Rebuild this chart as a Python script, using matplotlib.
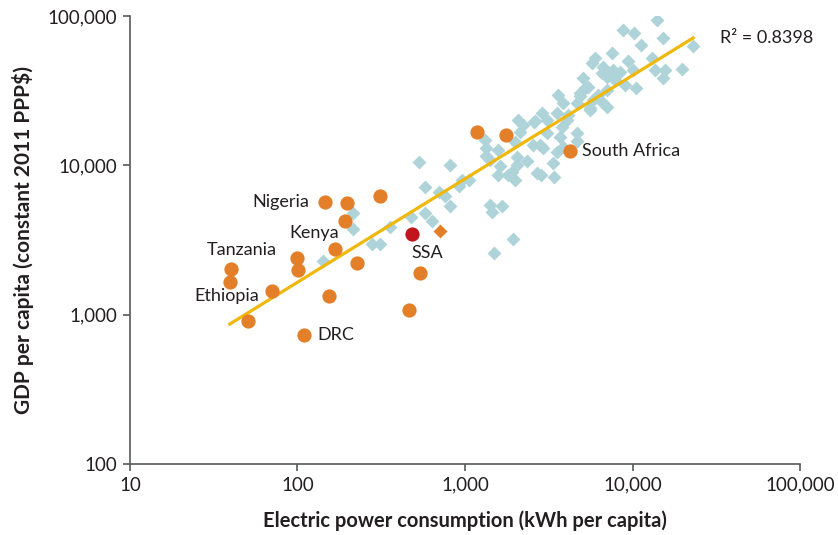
import numpy as np
import matplotlib
matplotlib.use("Agg")
import matplotlib.pyplot as plt
from matplotlib.ticker import FixedLocator, FuncFormatter, NullLocator

plt.rcParams['font.family'] = ['Lato', 'DejaVu Sans']

# other countries (light blue diamonds): kWh per capita, GDP per capita
other_kwh = [142, 214, 214, 279, 311, 357, 476, 531, 577, 577, 635, 700, 760, 813, 813,
             921, 1057, 959, 1410, 1449, 1663, 1935, 1489, 1316, 1334, 1334, 1574, 1410,
             1618, 1574, 1806, 1908, 1990, 2043, 2043, 2344, 2691, 2844, 3398, 3350, 3540,
             3846, 2805, 2547, 2924, 1990, 2130, 2220, 2072, 2582, 2884, 3090, 3090, 3589,
             3540, 3846, 3793, 3690, 4064, 4667, 4863, 5058, 5420, 5570, 4667, 4667, 2618,
             4121, 14000, 8770, 10210, 15210, 11250, 7551, 22960, 13070, 9397, 5970, 5728,
             6668, 6577, 7656, 8414, 7047, 7870, 10070, 13620, 15630, 15210, 19770, 9016,
             10490, 5200, 4863, 7047, 6223, 6577, 7047, 5570, 5808]
other_gdp = [2290, 4800, 3750, 2980, 2980, 3870, 4510, 10500, 7170, 4800, 4250, 6640, 6240,
             10100, 5350, 7280, 7980, 7980, 5430, 4880, 5350, 3210, 2590, 14800, 13100, 11600,
             12700, 10900, 9900, 8620, 8620, 9030, 7980, 11400, 10100, 10700, 8900, 8620,
             8360, 10400, 12300, 13300, 13700, 13700, 13100, 14400, 16700, 18700, 20100,
             19500, 22400, 20100, 16500, 29600, 22400, 26200, 18100, 15500, 20100, 26200,
             29200, 38500, 33500, 24200, 16500, 14600, 19800, 21800, 94200, 80700, 77100,
             71300, 64000, 56600, 63100, 52400, 50000, 52400, 48500, 45600, 41600, 43500,
             42200, 39100, 37300, 43500, 43500, 43500, 38500, 44200, 34600, 33000, 33000,
             30500, 32000, 29600, 26600, 24600, 23500, 27400]

# sub-Saharan African countries (orange circles)
ssa_kwh = [146, 198, 311, 192, 167, 99, 101, 226, 40, 39.5, 70.5, 154, 51, 109, 538, 463,
           1180, 1757, 4236]
ssa_gdp = [5690, 5600, 6240, 4250, 2755, 2400, 1990, 2220, 2020, 1656, 1442, 1334, 907, 731,
           1900, 1075, 16750, 16000, 12480]

# SSA average (red) and one orange diamond
avg_kwh, avg_gdp = 483, 3474
odd_kwh, odd_gdp = 710, 3640

# labels: text, x, y (data), ha
labels = [("Nigeria", 117, 5690, "right"),
          ("Kenya", 90, 3520, "left"),
          ("Tanzania", 28.8, 2710, "left"),
          ("Ethiopia", 24.4, 1334, "left"),
          ("DRC", 132, 731, "left"),
          ("SSA", 476, 2590, "left"),
          ("South Africa", 5000, 12480, "left")]

# fitted trend: log10(y) = a + b*log10(x)
fit_a, fit_b = 1.831, 0.693
fit_x = [39.5, 22960]
r2 = 0.8398

fig = plt.figure(figsize=(8.38, 5.35), dpi=100)
ax = fig.add_axes([0.155, 0.1327, 0.80, 0.8374])

ax.scatter(other_kwh, other_gdp, marker='D', s=50, color='#aed4da', linewidths=0, zorder=2)
fx = np.array(fit_x)
ax.plot(fx, 10 ** (fit_a + fit_b * np.log10(fx)), color='#f0b70c', lw=2.3, zorder=3)
ax.scatter(ssa_kwh, ssa_gdp, marker='o', s=105, color='#e37f28', linewidths=0, zorder=4)
ax.scatter([odd_kwh], [odd_gdp], marker='D', s=50, color='#e37f28', linewidths=0, zorder=4)
ax.scatter([avg_kwh], [avg_gdp], marker='o', s=105, color='#c2161f', linewidths=0, zorder=5)

for txt, x, y, ha in labels:
    ax.text(x, y, txt, ha=ha, va='center', fontsize=13, color='#231f20', zorder=6)
ax.text(33300, 71300, f"R² = {r2:.4f}", ha='left', va='center',
        fontsize=13, color='#231f20')

ax.set_xscale('log')
ax.set_yscale('log')
ax.set_xlim(10, 100000)
ax.set_ylim(100, 100000)
ax.xaxis.set_major_locator(FixedLocator([10, 100, 1000, 10000, 100000]))
ax.yaxis.set_major_locator(FixedLocator([100, 1000, 10000, 100000]))
ax.xaxis.set_minor_locator(NullLocator())
ax.yaxis.set_minor_locator(NullLocator())
fmt = FuncFormatter(lambda v, p: f"{int(round(v)):,}")
ax.xaxis.set_major_formatter(fmt)
ax.yaxis.set_major_formatter(fmt)

for s in ['top', 'right']:
    ax.spines[s].set_visible(False)
for s in ['left', 'bottom']:
    ax.spines[s].set_color('#58595b')
    ax.spines[s].set_linewidth(1.2)
ax.tick_params(axis='both', direction='out', length=5, width=1.2, color='#58595b',
               labelsize=13.5, labelcolor='#231f20', pad=4)

ax.set_xlabel("Electric power consumption (kWh per capita)", fontsize=14.5,
              fontweight='bold', color='#231f20', labelpad=12)
ax.set_ylabel("GDP per capita (constant 2011 PPP$)", fontsize=15,
              fontweight='bold', color='#231f20', labelpad=10)

fig.savefig("out.png", dpi=100)
